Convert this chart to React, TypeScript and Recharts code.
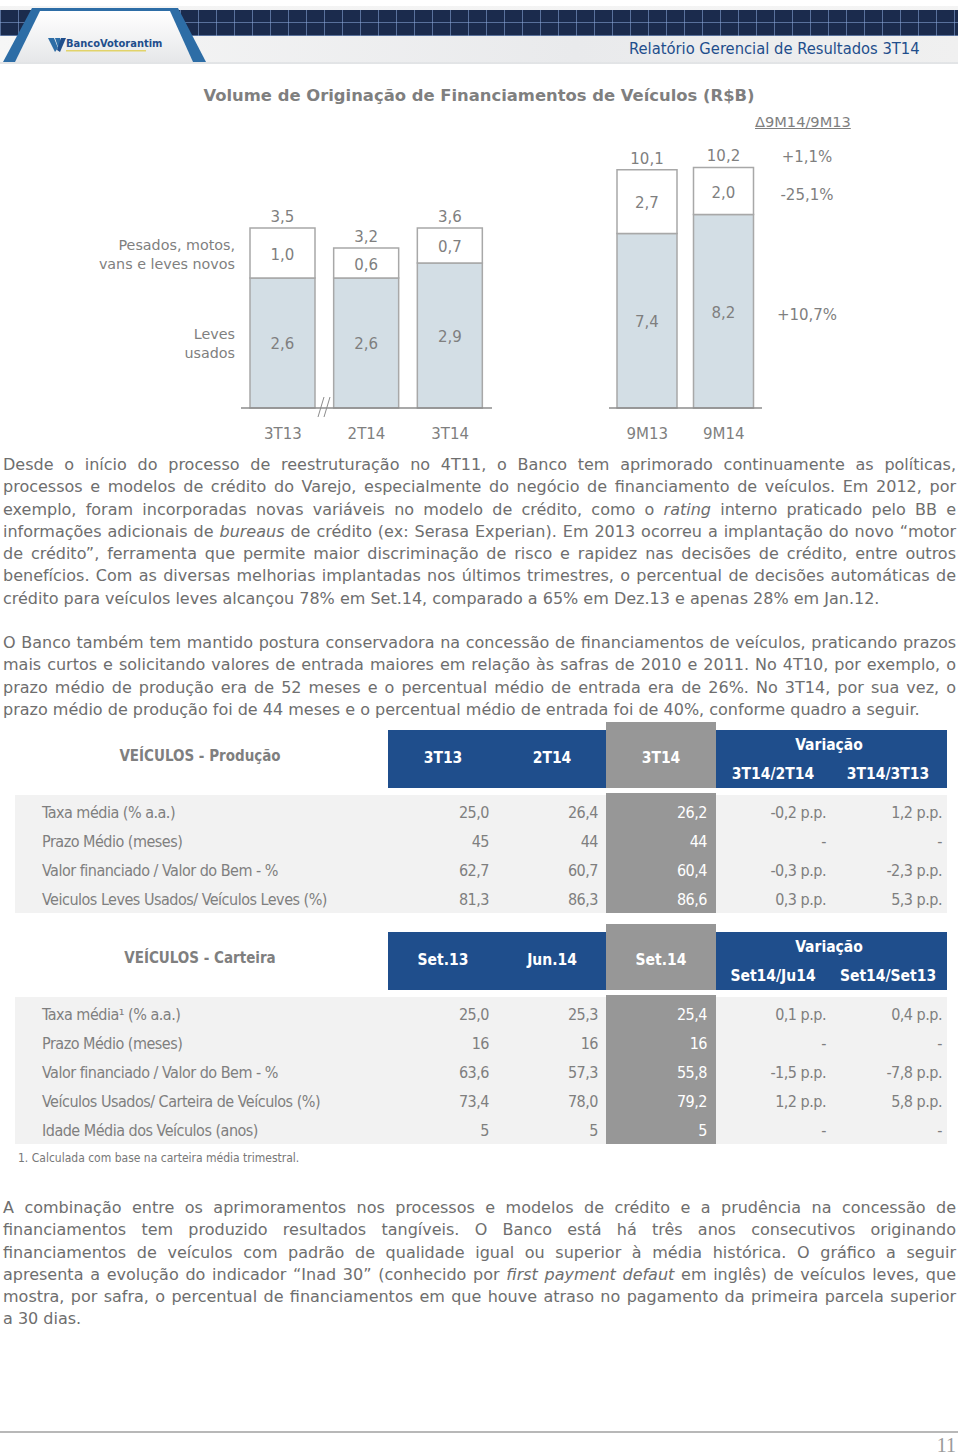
import React from "react";
import { BarChart, Bar, XAxis, YAxis, LabelList } from "recharts";

// stacked bars, quarters
const quarters = ["3T13", "2T14", "3T14"];
const quarterUsed = [2.6, 2.6, 2.9];
const quarterNew = [1.0, 0.6, 0.7];
const quarterTotal = [3.5, 3.2, 3.6];

// stacked bars, year to date
const ytd = ["9M13", "9M14"];
const ytdUsed = [7.4, 8.2];
const ytdNew = [2.7, 2.0];
const ytdTotal = [10.1, 10.2];

const deltaTitle = "Δ9M14/9M13";
const deltas = ["+1,1%", "-25,1%", "+10,7%"];
const seriesNames = [["Pesados, motos,", "vans e leves novos"], ["Leves", "usados"]];

const prodHeader = ["3T13", "2T14", "3T14", "3T14/2T14", "3T14/3T13"];
const prodLabels = [
  "Taxa média (% a.a.)",
  "Prazo Médio (meses)",
  "Valor financiado / Valor do Bem - %",
  "Veiculos Leves Usados/ Veículos Leves (%)",
];
const prodValues = [
  ["25,0", "26,4", "26,2", "-0,2 p.p.", "1,2 p.p."],
  ["45", "44", "44", "-", "-"],
  ["62,7", "60,7", "60,4", "-0,3 p.p.", "-2,3 p.p."],
  ["81,3", "86,3", "86,6", "0,3 p.p.", "5,3 p.p."],
];

const cartHeader = ["Set.13", "Jun.14", "Set.14", "Set14/Ju14", "Set14/Set13"];
const cartLabels = [
  "Taxa média¹ (% a.a.)",
  "Prazo Médio (meses)",
  "Valor financiado / Valor do Bem - %",
  "Veículos Usados/ Carteira de Veículos (%)",
  "Idade Média dos Veículos (anos)",
];
const cartValues = [
  ["25,0", "25,3", "25,4", "0,1 p.p.", "0,4 p.p."],
  ["16", "16", "16", "-", "-"],
  ["63,6", "57,3", "55,8", "-1,5 p.p.", "-7,8 p.p."],
  ["73,4", "78,0", "79,2", "1,2 p.p.", "5,8 p.p."],
  ["5", "5", "5", "-", "-"],
];

const para1 = [
  "Desde o início do processo de reestruturação no 4T11, o Banco tem aprimorado continuamente as políticas,",
  "processos e modelos de crédito do Varejo, especialmente do negócio de financiamento de veículos. Em 2012, por",
  "exemplo, foram incorporadas novas variáveis no modelo de crédito, como o |rating| interno praticado pelo BB e",
  "informações adicionais de |bureaus| de crédito (ex: Serasa Experian). Em 2013 ocorreu a implantação do novo “motor",
  "de crédito”, ferramenta que permite maior discriminação de risco e rapidez nas decisões de crédito, entre outros",
  "benefícios. Com as diversas melhorias implantadas nos últimos trimestres, o percentual de decisões automáticas de",
  "crédito para veículos leves alcançou 78% em Set.14, comparado a 65% em Dez.13 e apenas 28% em Jan.12.",
];
const para2 = [
  "O Banco também tem mantido postura conservadora na concessão de financiamentos de veículos, praticando prazos",
  "mais curtos e solicitando valores de entrada maiores em relação às safras de 2010 e 2011. No 4T10, por exemplo, o",
  "prazo médio de produção era de 52 meses e o percentual médio de entrada era de 26%. No 3T14, por sua vez, o",
  "prazo médio de produção foi de 44 meses e o percentual médio de entrada foi de 40%, conforme quadro a seguir.",
];
const para3 = [
  "A combinação entre os aprimoramentos nos processos e modelos de crédito e a prudência na concessão de",
  "financiamentos tem produzido resultados tangíveis. O Banco está há três anos consecutivos originando",
  "financiamentos de veículos com padrão de qualidade igual ou superior à média histórica. O gráfico a seguir",
  "apresenta a evolução do indicador “Inad 30” (conhecido por |first payment defaut| em inglês) de veículos leves, que",
  "mostra, por safra, o percentual de financiamentos em que houve atraso no pagamento da primeira parcela superior",
  "a 30 dias.",
];

const GRAY = "#7f7f7f";
const BLUE = "#1f4e8c";
const COL_GRAY = "#979797";
const FONT = "'DejaVu Sans', Verdana, sans-serif";
const NARROW = "'Liberation Sans Narrow', 'DejaVu Sans Condensed', sans-serif";

const fmt = (v: any) => Number(v).toFixed(1).replace(".", ",");

const quarterData = quarters.map((name, i) => ({
  name,
  usados: quarterUsed[i],
  novos: quarterNew[i],
  total: quarterTotal[i],
}));
const ytdData = ytd.map((name, i) => ({
  name,
  usados: ytdUsed[i],
  novos: ytdNew[i],
  total: ytdTotal[i],
}));

const Stack = ({ data, width, max, barSize }: { data: any[]; width: number; max: number; barSize: number }) => (
  <BarChart width={width} height={308} data={data} margin={{ top: 18, right: 0, left: 0, bottom: 0 }}>
    <YAxis hide domain={[0, max]} />
    <XAxis
      dataKey="name"
      height={40}
      axisLine={{ stroke: "#8c8c8c", strokeWidth: 1.5 }}
      tickLine={false}
      tickMargin={14}
      tick={{ fill: GRAY, fontSize: 15, fontFamily: FONT }}
    />
    <Bar dataKey="usados" stackId="a" fill="#d3dee5" stroke="#a8a8a8" strokeWidth={1.5} barSize={barSize} isAnimationActive={false}>
      <LabelList dataKey="usados" position="center" formatter={fmt} fill={GRAY} fontSize={15} fontFamily={FONT} dy={1} />
    </Bar>
    <Bar dataKey="novos" stackId="a" fill="#ffffff" stroke="#a8a8a8" strokeWidth={1.5} barSize={barSize} isAnimationActive={false}>
      <LabelList dataKey="novos" position="center" formatter={fmt} fill={GRAY} fontSize={15} fontFamily={FONT} dy={1.5} />
      <LabelList dataKey="total" position="top" offset={6} formatter={fmt} fill={GRAY} fontSize={15} fontFamily={FONT} />
    </Bar>
  </BarChart>
);

const abs = (left: number, top: number, extra: React.CSSProperties = {}): React.CSSProperties => ({
  position: "absolute",
  left,
  top,
  ...extra,
});

const renderLine = (line: string) =>
  line.split("|").map((part, i) => (i % 2 === 1 ? <i key={i}>{part}</i> : <span key={i}>{part}</span>));

const Paragraph = ({ lines, top }: { lines: string[]; top: number }) => (
  <div style={abs(3, top, { width: 953, fontFamily: FONT, fontSize: 16, color: "#6e6e6e" })}>
    {lines.map((l, i) => (
      <div
        key={i}
        style={{
          height: 22.3,
          lineHeight: "22.3px",
          whiteSpace: "nowrap",
          textAlign: i === lines.length - 1 ? "left" : "justify",
          textAlignLast: i === lines.length - 1 ? "left" : "justify",
        }}
      >
        {renderLine(l)}
      </div>
    ))}
  </div>
);

const valueRight = [489, 598, 707, 826, 942];

const DataTable = ({
  top,
  title,
  header,
  labels,
  values,
}: {
  top: number;
  title: string;
  header: string[];
  labels: string[];
  values: string[][];
}) => {
  const bodyTop = top + 67;
  const rowH = 29;
  const bodyH = labels.length * rowH + 2;
  const hdr: React.CSSProperties = { color: "#fff", fontWeight: "bold", fontSize: 15.5, fontFamily: NARROW, textAlign: "center" };
  const cell: React.CSSProperties = { fontFamily: NARROW, fontSize: 16, letterSpacing: -0.5, whiteSpace: "nowrap" };
  return (
    <>
      <div style={abs(200 - 150, top + 19, { width: 300, textAlign: "center", color: GRAY, fontWeight: "bold", fontSize: 15, fontFamily: NARROW })}>
        {title}
      </div>
      <div style={abs(388, top + 2, { width: 559, height: 58, background: BLUE })} />
      <div style={abs(606, top - 6, { width: 110, height: 66, background: COL_GRAY })} />
      {header.slice(0, 3).map((h, i) => (
        <div key={h} style={abs(443 + i * 109 - 50, top + 21, { width: 100, ...hdr })}>
          {h}
        </div>
      ))}
      <div style={abs(779, top + 8, { width: 100, ...hdr })}>Variação</div>
      {header.slice(3).map((h, i) => (
        <div key={h} style={abs(773 + i * 115 - 55, top + 37, { width: 110, ...hdr })}>
          {h}
        </div>
      ))}
      <div style={abs(15, bodyTop, { width: 932, height: bodyH, background: "#f2f2f2" })} />
      <div style={abs(606, bodyTop - 2, { width: 110, height: bodyH + 2, background: COL_GRAY })} />
      {labels.map((l, r) => (
        <React.Fragment key={l}>
          <div style={abs(42, bodyTop + 7.5 + r * rowH, { ...cell, color: GRAY })}>{l}</div>
          {values[r].map((v, c) => (
            <div
              key={c}
              style={abs(valueRight[c] - 100, bodyTop + 7.5 + r * rowH, {
                ...cell,
                width: 100,
                textAlign: "right",
                color: c === 2 ? "#fff" : GRAY,
              })}
            >
              {v}
            </div>
          ))}
        </React.Fragment>
      ))}
    </>
  );
};

const Banner = () => (
  <div style={abs(0, 0, { width: 958, height: 64 })}>
    <div style={abs(0, 6, { width: 958, height: 58, background: "linear-gradient(#f4f4f4, #e2e4e6)" })} />
    <div
      style={abs(0, 10, {
        width: 958,
        height: 26,
        backgroundColor: "#1b2b4d",
        backgroundImage:
          "repeating-linear-gradient(90deg, rgba(140,170,220,0.55) 0 1px, transparent 1px 18px), repeating-linear-gradient(0deg, rgba(140,170,220,0.55) 0 1px, transparent 1px 13px)",
      })}
    />
    <div style={abs(0, 36, { width: 958, height: 26, background: "linear-gradient(90deg,#f6f6f6,#e9eaec 60%,#f0f0f0)" })} />
    <svg style={abs(0, 0)} width={240} height={64}>
      <defs>
        <linearGradient id="lg" x1="0" y1="0" x2="0" y2="1">
          <stop offset="0" stopColor="#ffffff" />
          <stop offset="1" stopColor="#e6e7e9" />
        </linearGradient>
      </defs>
      <polygon points="3,62 32,8 178,8 206,62" fill="#2d6da6" />
      <polygon points="15,62 40,11 170,11 193,62" fill="url(#lg)" />
      <polygon points="48,38 54,38 58,48 55,52" fill="#2d6da6" />
      <polygon points="55,38 60,38 62,46 59,50" fill="#2d6da6" />
      <polygon points="61,38 66,38 60,52 57,50" fill="#1f4e8c" />
      <rect x={66} y={50} width={80} height={1.5} fill="#e2d36a" />
      <text x={66} y={47} fontSize={11} fontWeight="bold" fill={BLUE} fontFamily={NARROW}>
        BancoVotorantim
      </text>
    </svg>
    <div style={abs(629, 39, { fontFamily: "'DejaVu Sans Condensed', sans-serif", fontSize: 16.4, color: BLUE, whiteSpace: "nowrap" })}>
      Relatório Gerencial de Resultados 3T14
    </div>
  </div>
);

export default function App() {
  return (
    <div style={abs(0, 0, { width: 960, height: 1455, background: "#fff", fontFamily: FONT, overflow: "hidden" })}>
      <Banner />
      <div style={abs(0, 86, { width: 958, textAlign: "center", fontWeight: "bold", fontSize: 16.4, color: GRAY })}>
        Volume de Originação de Financiamentos de Veículos (R$B)
      </div>

      {seriesNames.map((lines, k) => (
        <div key={k} style={abs(35, k === 0 ? 236 : 325, { width: 200, textAlign: "right", fontSize: 14.3, color: GRAY, lineHeight: "19px" })}>
          {lines.map((l) => (
            <div key={l}>{l}</div>
          ))}
        </div>
      ))}

      <div style={abs(241, 140)}>
        <Stack data={quarterData} width={251} max={5} barSize={65} />
      </div>
      <svg style={abs(314, 394)} width={24} height={26}>
        <line x1={4} y1={23} x2={10} y2={3} stroke="#8c8c8c" strokeWidth={1} />
        <line x1={10} y1={23} x2={16} y2={3} stroke="#8c8c8c" strokeWidth={1} />
      </svg>

      <div style={abs(609, 140)}>
        <Stack data={ytdData} width={153} max={10.6} barSize={60} />
      </div>

      <div style={abs(755, 113, { fontSize: 14.6, color: GRAY, textDecoration: "underline" })}>{deltaTitle}</div>
      {deltas.map((d, i) => (
        <div key={d} style={abs(757, [148, 186, 306][i], { width: 100, textAlign: "center", fontSize: 15, color: GRAY })}>
          {d}
        </div>
      ))}

      <Paragraph lines={para1} top={454} />
      <Paragraph lines={para2} top={632} />

      <DataTable top={728} title="VEÍCULOS - Produção" header={prodHeader} labels={prodLabels} values={prodValues} />
      <DataTable top={930} title="VEÍCULOS - Carteira" header={cartHeader} labels={cartLabels} values={cartValues} />
      <div style={abs(18, 1151, { fontFamily: NARROW, fontSize: 12, color: "#777" })}>1. Calculada com base na carteira média trimestral.</div>

      <Paragraph lines={para3} top={1197} />

      <div style={abs(0, 1431, { width: 958, height: 2, background: "#b8b8b8" })} />
      <div style={abs(900, 1435, { width: 56, textAlign: "right", fontFamily: "'Liberation Serif', serif", fontSize: 20, lineHeight: "20px", color: "#9a9a9a" })}>11</div>
    </div>
  );
}
